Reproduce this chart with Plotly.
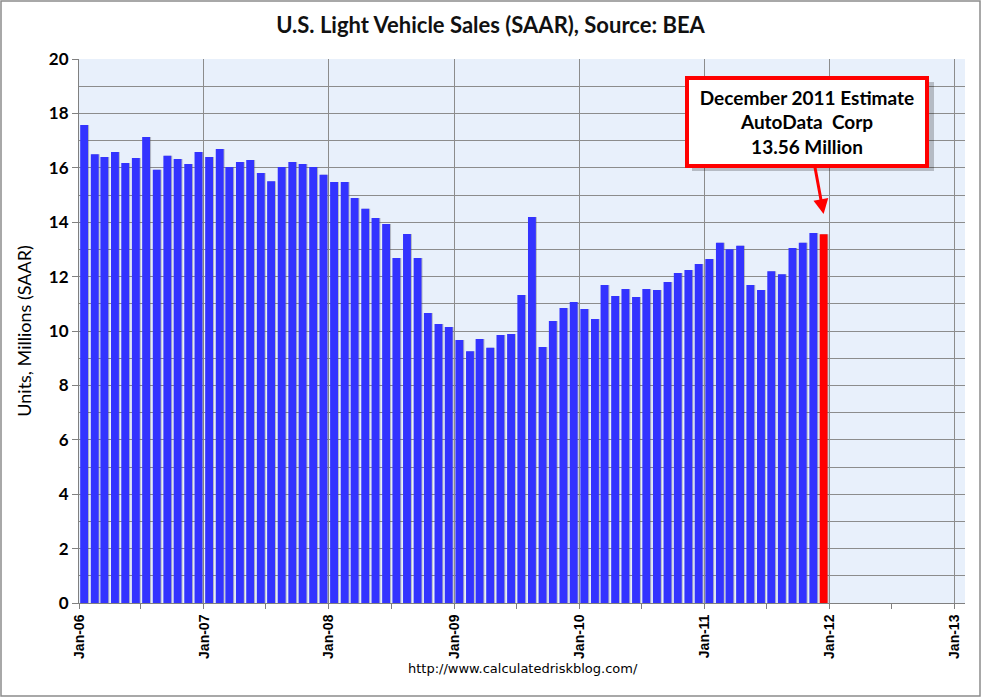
import pandas as pd
import plotly.graph_objects as go

# monthly SAAR, millions of units, Jan 2006 .. Dec 2011
sales_2006 = [17.57, 16.50, 16.40, 16.58, 16.18, 16.36, 17.13, 15.93, 16.44, 16.32, 16.14, 16.58]
sales_2007 = [16.40, 16.69, 16.03, 16.21, 16.29, 15.81, 15.51, 16.03, 16.21, 16.14, 16.03, 15.74]
sales_2008 = [15.48, 15.48, 14.89, 14.49, 14.15, 13.93, 12.68, 13.57, 12.68, 10.66, 10.26, 10.15]
sales_2009 = [9.67, 9.26, 9.71, 9.38, 9.85, 9.89, 11.32, 14.19, 9.41, 10.37, 10.85, 11.07]
sales_2010 = [10.81, 10.44, 11.69, 11.29, 11.54, 11.25, 11.54, 11.51, 11.80, 12.13, 12.24, 12.46]
sales_2011 = [12.65, 13.24, 13.01, 13.13, 11.69, 11.51, 12.20, 12.09, 13.05, 13.24, 13.60, 13.56]

sales = sales_2006 + sales_2007 + sales_2008 + sales_2009 + sales_2010 + sales_2011
months = pd.date_range("2006-01-01", periods=len(sales), freq="MS") + pd.Timedelta(days=15)

estimate_text = "December 2011 Estimate<br>AutoData  Corp<br>13.56 Million"

BLUE = "#3333ff"
RED = "#ff0000"
DAY = 86400000
W = 23 * DAY

colors = [BLUE] * (len(sales) - 1) + [RED]

# plot area in pixels
L, R, T, B = 79, 16, 59, 94
WIDTH, HEIGHT = 981, 697
pw = WIDTH - L - R
ph = HEIGHT - T - B

def px_x(p):
    return (p - L) / pw

def px_y(p):
    return (HEIGHT - B - p) / ph

fig = go.Figure()

# soft shadow behind the bars
fig.add_trace(go.Bar(
    x=months, y=sales, width=W, offset=-W / 2 + 3 * DAY,
    marker=dict(color="rgba(90,90,90,0.35)", line=dict(width=0)),
    hoverinfo="skip", showlegend=False,
))
fig.add_trace(go.Bar(
    x=months, y=sales, width=W, offset=-W / 2,
    marker=dict(color=colors, line=dict(width=0)),
    showlegend=False,
))

fig.update_layout(
    width=WIDTH, height=HEIGHT,
    margin=dict(l=L, r=R, t=T, b=B),
    barmode="overlay",
    paper_bgcolor="white",
    plot_bgcolor="#e8f0fb",
    title=dict(
        text="<b>U.S. Light Vehicle Sales (SAAR), Source: BEA</b>",
        x=0.5, xanchor="center", y=1 - 25 / HEIGHT, yanchor="middle",
        font=dict(family="Lato", size=22, color="#111111"),
    ),
    font=dict(family="Lato", color="black"),
)

fig.update_xaxes(
    type="date",
    range=["2006-01-01", "2013-02-01"],
    tick0="2006-01-01", dtick="M12",
    tickformat="%b-%y",
    tickangle=-90,
    tickprefix="<b>", ticksuffix="</b>",
    tickfont=dict(family="Liberation Sans", size=14, color="black"),
    ticks="outside", ticklen=5, tickcolor="#808080",
    minor=dict(dtick="M6", tick0="2006-01-01", ticks="outside", ticklen=5, tickcolor="#808080", showgrid=False),
    showgrid=True, gridcolor="#8c8c8c", gridwidth=1,
    showline=True, linecolor="#808080", linewidth=1,
    zeroline=False,
)
fig.update_yaxes(
    range=[0, 20],
    tick0=0, dtick=2,
    tickformat="d",
    tickfont=dict(family="Lato", size=17, color="black"),
    ticks="outside", ticklen=6, tickcolor="#808080",
    showgrid=True, gridcolor="#8c8c8c", gridwidth=1,
    minor=dict(dtick=1, showgrid=True, gridcolor="#8c8c8c", gridwidth=1),
    showline=True, linecolor="#808080", linewidth=1,
    zeroline=False,
    title=dict(text="Units, Millions (SAAR)", font=dict(family="Lato", size=18, color="black"), standoff=12),
    tickprefix="<b>", ticksuffix="</b>",
)

# drop shadow for the callout box
fig.add_shape(
    type="rect", xref="paper", yref="paper", layer="above",
    x0=px_x(692), x1=px_x(934), y0=px_y(171), y1=px_y(82),
    fillcolor="rgba(0,0,0,0.22)", line=dict(width=0),
)

# callout for the December estimate
fig.add_annotation(
    x=months[-1], y=14.3, xref="x", yref="y",
    text="<b>" + estimate_text + "</b>",
    showarrow=True, arrowhead=2, arrowsize=1, arrowwidth=3, arrowcolor=RED,
    ax=-17, ay=-92,
    font=dict(family="Lato", size=19, color="black"),
    bgcolor="white", bordercolor=RED, borderwidth=4, borderpad=3,
    width=230, height=78, align="center",
)

fig.add_annotation(
    x=px_x(523), y=px_y(668), xref="paper", yref="paper",
    xanchor="center", yanchor="middle",
    text="http://www.calculatedriskblog.com/",
    showarrow=False,
    font=dict(family="DejaVu Sans", size=13, color="black"),
)

# outer frame
fig.add_shape(
    type="rect", xref="paper", yref="paper",
    x0=px_x(1), x1=px_x(WIDTH - 1), y0=px_y(HEIGHT - 1), y1=px_y(1),
    line=dict(color="#8c8c8c", width=1.5),
)

fig.write_html("out.html", config={"displayModeBar": False},
               post_script="document.body.style.margin='0';")
